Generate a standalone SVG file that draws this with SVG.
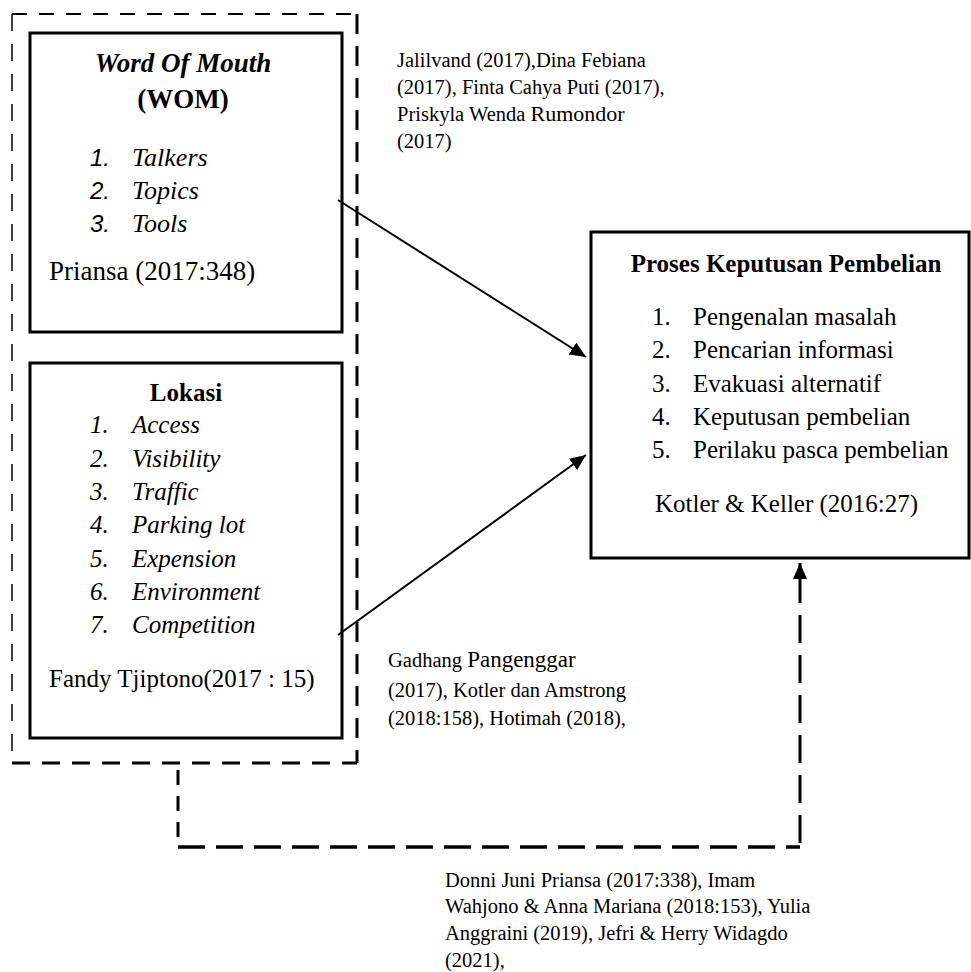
<svg xmlns="http://www.w3.org/2000/svg" width="971" height="972" viewBox="0 0 971 972">
<style>
text{font-family:"Liberation Serif","Times New Roman",serif;fill:#000}
.box{fill:#fff;stroke:#000;stroke-width:3}
.b{font-weight:bold}
.i{font-style:italic}
.s25{font-size:25px}
.s27{font-size:27px}
.ref{font-size:20.5px}
.num{font-family:"Liberation Sans",Arial,sans-serif;font-style:italic;font-size:24px}
.ln{stroke:#000;fill:none}
</style>
<defs>
<marker id="ah" markerUnits="userSpaceOnUse" markerWidth="17" markerHeight="14" refX="16" refY="7" orient="auto">
<path d="M0,0 L16,7 L0,14 z" fill="#000"/>
</marker>
</defs>
<rect width="971" height="972" fill="#fff"/>
<g id="group-outer">
<line class="ln" x1="12" y1="14" x2="357" y2="14" stroke-width="2" stroke-dasharray="15 12"/>
<line class="ln" x1="12" y1="14" x2="12" y2="763" stroke-width="1.5" stroke-dasharray="17 13"/>
<line class="ln" x1="357" y1="14" x2="357" y2="763" stroke-width="3" stroke-dasharray="20 12"/>
<line class="ln" x1="12" y1="763" x2="357" y2="763" stroke-width="3" stroke-dasharray="18 12"/>
</g>
<g id="node-wom">
<rect class="box" x="30" y="33" width="312" height="299"/>
<text class="b i s27" x="183" y="72" text-anchor="middle">Word Of Mouth</text>
<text class="b s27" x="183" y="108" text-anchor="middle">(WOM)</text>
<text class="num" x="90" y="166">1.</text><text class="i" font-size="26" x="132" y="166">Talkers</text>
<text class="num" x="90" y="199">2.</text><text class="i" font-size="26" x="132" y="199">Topics</text>
<text class="num" x="90" y="232">3.</text><text class="i" font-size="26" x="132" y="232">Tools</text>
<text class="s27" x="49" y="280">Priansa (2017:348)</text>
</g>
<g id="node-lokasi">
<rect class="box" x="30" y="363" width="312" height="375"/>
<text class="b s25" x="186" y="401" text-anchor="middle">Lokasi</text>
<g class="i s25">
<text x="90" y="433">1.</text><text x="132" y="433">Access</text>
<text x="90" y="467">2.</text><text x="132" y="467">Visibility</text>
<text x="90" y="500">3.</text><text x="132" y="500">Traffic</text>
<text x="90" y="533">4.</text><text x="132" y="533">Parking lot</text>
<text x="90" y="567">5.</text><text x="132" y="567">Expension</text>
<text x="90" y="600">6.</text><text x="132" y="600">Environment</text>
<text x="90" y="633">7.</text><text x="132" y="633">Competition</text>
</g>
<text class="s25" x="49" y="687">Fandy Tjiptono(2017 : 15)</text>
</g>
<g id="node-keputusan">
<rect class="box" x="591" y="232" width="378" height="326"/>
<text class="b s25" x="786" y="272" text-anchor="middle">Proses Keputusan Pembelian</text>
<g class="s25">
<text x="652" y="325">1.</text><text x="693" y="325">Pengenalan masalah</text>
<text x="652" y="358">2.</text><text x="693" y="358">Pencarian informasi</text>
<text x="652" y="392">3.</text><text x="693" y="392">Evakuasi alternatif</text>
<text x="652" y="425">4.</text><text x="693" y="425">Keputusan pembelian</text>
<text x="652" y="458">5.</text><text x="693" y="458">Perilaku pasca pembelian</text>
</g>
<text class="s25" x="655" y="512">Kotler &amp; Keller (2016:27)</text>
</g>
<g id="connectors">
<line class="ln" x1="338" y1="200" x2="586" y2="357" stroke-width="2" marker-end="url(#ah)"/>
<line class="ln" x1="338" y1="635" x2="586" y2="455" stroke-width="2" marker-end="url(#ah)"/>
<line class="ln" x1="178" y1="770" x2="178" y2="847" stroke-width="3" stroke-dasharray="15 11"/>
<line class="ln" x1="178" y1="847" x2="800" y2="847" stroke-width="3.5" stroke-dasharray="27 11"/>
<line class="ln" x1="800" y1="615" x2="800" y2="847" stroke-width="3" stroke-dasharray="28 12"/>
<line class="ln" x1="800" y1="603" x2="800" y2="563" stroke-width="3" marker-end="url(#ah)"/>
</g>
<g id="labels">
<text class="ref" x="397" y="67">Jalilvand (2017),Dina Febiana</text>
<text class="ref" x="397" y="94">(2017), Finta Cahya Puti (2017),</text>
<text class="ref" x="397" y="121">Priskyla Wenda <tspan font-size="22">Rumondor</tspan></text>
<text class="ref" x="397" y="148">(2017)</text>
<text class="ref" x="388" y="667">Gadhang <tspan font-size="23">Pangenggar</tspan></text>
<text class="ref" x="388" y="697">(2017), Kotler dan Amstrong</text>
<text class="ref" x="388" y="725">(2018:158), Hotimah (2018),</text>
<text class="ref" x="445" y="887">Donni Juni Priansa (2017:338), Imam</text>
<text class="ref" x="445" y="913">Wahjono &amp; Anna Mariana (2018:153), Yulia</text>
<text class="ref" x="445" y="940">Anggraini (2019), Jefri &amp; Herry Widagdo</text>
<text class="ref" x="445" y="967">(2021),</text>
</g>
</svg>
